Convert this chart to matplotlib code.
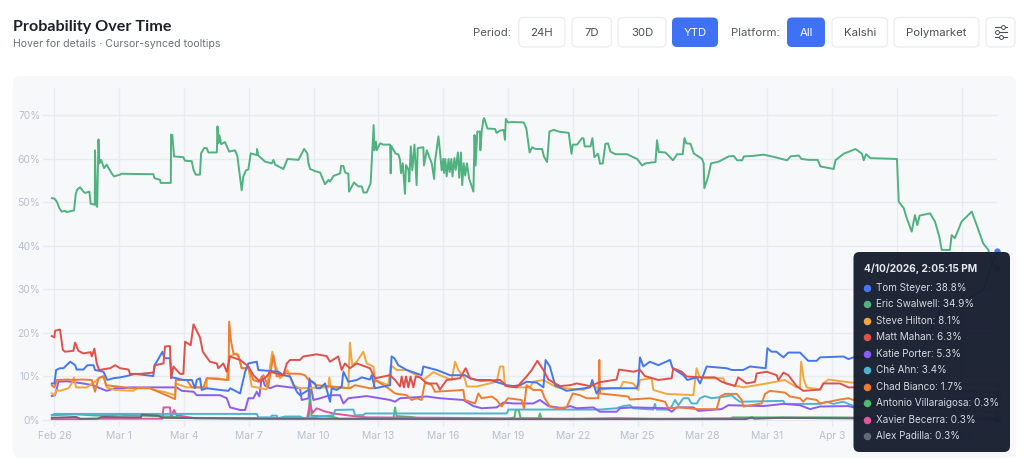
import matplotlib
matplotlib.use("Agg")
import matplotlib.pyplot as plt
from matplotlib.patches import FancyBboxPatch

plt.rcParams['font.family'] = ['Inter', 'DejaVu Sans']

# x is days since Feb 26, y is probability in %
swalwell = [(-.12,51),(0,50.9),(.11,50.2),(.23,48.7),(.34,47.9),(.49,48.1),(.57,47.8),(.91,48.2),(.99,52),(1.06,53),(1.19,53.5),(1.34,52.5),(1.42,52.2),(1.62,52.5),
    (1.68,49.7),(1.87,49.5),(1.88,62),(1.93,49.5),(1.98,49),(2.04,64.5),(2.08,59),(2.16,59.8),(2.3,57.9),(2.42,58.7),(2.65,56.7),(2.76,56),(3.04,56.4),(3.1,56.6),
    (4.58,56.5),(4.63,55.6),(4.89,55.2),(4.92,54.5),(5.39,54.5),(5.4,65.6),(5.46,65.5),(5.54,60.6),(5.97,60.4),(6.05,59.6),(6.36,59.5),(6.44,57.5),(6.54,56.4),(6.74,56.4),
    (6.79,61.3),(6.93,62.5),(7.05,62.5),(7.13,61.5),(7.52,61.5),(7.55,67.5),(7.59,63.6),(7.64,65.5),(7.72,63.4),(7.9,63.9),(8.09,61.7),(8.36,62),(8.47,60.7),(8.56,57.1),
    (8.67,52.8),(8.75,56),(8.87,57.4),(8.98,57.6),(9.09,61.3),(9.37,60.9),(9.38,62.3),(9.44,60.8),(9.75,59.4),(10.06,59),(10.14,59.8),(10.22,58.7),(10.6,57.7),(10.79,60),
    (11.3,59.8),(11.56,62.3),(11.71,61.3),(11.76,59),(11.84,57.7),(12.07,57.2),(12.3,56.9),(12.53,54.2),(12.69,55.2),(12.76,54.8),(12.92,56.1),(13.23,56.7),(13.27,58.4),
    (13.38,58.4),(13.46,56.9),(13.61,56.6),(13.64,52.5),(13.87,54.6),(14.07,53.7),(14.23,53.7),(14.31,52.3),(14.46,52.3),(14.64,54.4),(14.72,62),(14.78,67.8),(14.81,62),
    (14.89,64),(14.92,62),(15.08,63.6),(15.23,63.3),(15.54,63.3),(15.57,56.7),(15.6,63),(15.79,61.3),(15.93,61),(16,59.8),(16.05,56.7),(16.13,59),(16.23,52),(16.28,58.6),
    (16.39,57.5),(16.43,54.8),(16.5,62.9),(16.57,57.4),(16.67,63.3),(16.77,54),(16.82,62.5),(17.08,62.7),(17.11,58.5),(17.24,62),(17.47,59),(17.58,55.4),(17.62,59.4),
    (17.78,65.2),(17.86,61.3),(17.93,57.4),(18,60),(18.04,56.8),(18.1,60),(18.16,56),(18.25,60),(18.3,57),(18.38,60),(18.43,56),(18.52,60.2),(18.58,57.5),(18.68,61.5),
    (18.74,55.7),(18.82,61.5),(18.88,54),(18.95,59),(19.02,56.2),(19.1,59),(19.2,55.5),(19.4,52.5),(19.45,65.5),(19.5,58.5),(19.58,66.3),(19.7,66.3),(19.72,62),(19.78,66.3),
    (19.86,69),(19.9,69.4),(20.05,67),(20.4,66.9),(20.47,66),(20.62,66.5),(20.8,66.7),(20.86,64.4),(20.9,69.2),(21,68.4),(21.19,68.5),(21.73,68.4),(21.85,67),(22,61.5),
    (22.12,62.7),(22.27,62.3),(22.58,62.3),(22.66,60.6),(22.81,59.3),(22.92,66.3),(23.12,66.7),(23.35,66.3),(23.81,66),(23.94,61.2),(24,63.3),(24.2,63.3),(24.43,64.8),
    (24.5,64.7),(24.55,62.9),(24.82,62.9),(24.91,64.8),(25,60.4),(25.17,61.2),(25.26,58.9),(25.39,59),(25.51,63.5),(25.63,63.6),(25.74,61.7),(25.97,61.1),(26.51,61.1),
    (26.98,60),(27.21,58.5),(27.36,59),(27.83,59.3),(27.9,64.3),(27.98,61.6),(28.29,61.5),(28.64,59.7),(28.83,61.1),(29.09,61.1),(29.17,64.8),(29.26,63.6),(29.45,63.5),
    (29.6,61.3),(29.99,60),(30.06,59),(30.09,53.3),(30.22,55.2),(30.3,56.7),(30.4,59),(30.76,59.4),(31.22,60.6),(31.45,60.7),(31.61,59.7),(31.84,59.7),(31.92,60.6),(32.3,60.7),
    (32.84,61),(33.38,60.4),(33.92,59.7),(34.08,60.6),(34.46,60.8),(34.59,60),(34.93,59.8),(35.34,59.8),(35.46,58.3),(36.08,57.7),(36.16,59.7),(36.54,61.2),(37.09,62.3),
    (37.39,61.2),(37.47,59.7),(37.58,61.1),(37.78,60.2),(39.01,60),(39.09,50.2),(39.32,48.7),(39.46,46.4),(39.69,43.3),(39.84,47.1),(39.95,44.8),(40.06,47),(40.54,47.5),
    (40.77,45.6),(40.97,42.1),(41.08,39.1),(41.46,39.1),(41.54,42.5),(41.69,41.8),(42,45.6),(42.47,47.9),(42.7,44.8),(43,40.6),(43.24,39.1),(43.4,36),(43.62,34.9)]
mahan = [(-.12,19.3),(0,19),(.03,20.5),(.26,20.8),(.39,16.1),(.49,15.7),(.88,15.9),(.96,17.8),(1.11,15.9),(1.34,15.3),(1.68,15.6),(1.73,14.6),(1.85,16.4),(1.96,13),(2.07,11.5),
    (2.58,11.9),(2.81,12.6),(3.04,11.9),(3.43,11.6),(3.5,10.6),(3.97,10.6),(4.58,10.9),(4.66,12.6),(5.05,13),(5.12,16.9),(5.35,17),(5.4,9.6),(5.51,12.3),(5.82,10.6),(5.97,10.6),
    (6.05,18),(6.31,17.2),(6.44,22),(6.74,19),(6.87,15.7),(7.2,13.4),(7.52,13),(7.59,11.9),(7.82,13),(7.98,11.1),(8.13,14.6),(8.6,13.8),(8.98,12.3),(9.21,10.3),(9.52,8.8),
    (9.83,10),(9.98,11.1),(10.6,10.3),(10.76,13),(10.91,13.8),(11.37,13.8),(11.52,14.6),(12.14,15.1),(12.6,14.7),(12.76,13.4),(13.14,14.6),(13.3,11.5),(13.45,13),(13.68,11.9),
    (14,13),(14.61,11.9),(14.84,9.6),(15.54,10.3),(15.77,9.2),(16,7.7),(16.08,10),(16.18,7.5),(16.28,10),(16.39,7.5),(16.49,10),(16.62,7.5),(16.73,10),(16.93,9.8),(17.24,8.4),
    (17.7,8.4),(17.85,7),(18.16,9.2),(18.78,9.6),(19.04,11.9),(19.24,9.6),(19.7,9),(20.63,9.2),(20.94,7.8),(21.4,7.5),(21.86,10),(22.1,11.5),(22.36,13.6),(22.64,11.5),
    (22.87,9.3),(23.41,7.8),(23.87,8),(24.18,8.4),(24.8,7.8),(25.26,8.7),(26.03,9.3),(26.14,11.6),(26.8,11.1),(27.11,11.5),(27.34,10.1),(27.96,9.2),(28.58,9.6),(28.65,11.9),
    (29.04,11.1),(29.27,10),(29.89,9.8),(30.58,9.8),(30.89,8.8),(31.51,7.8),(31.66,9.8),(32.05,8.4),(32.44,8.8),(32.51,10.7),(32.98,11.1),(33.44,10.3),(33.52,9.2),(33.75,10.9),
    (33.98,10.3),(34.36,7.8),(34.67,6.7),(35.45,7),(35.6,8.4),(36.37,8.4),(36.76,7.5),(37,7.5),(39,7.3),(43.62,6.3)]
steyer = [(-.12,8.4),(0,8.4),(.08,11.5),(.26,11.9),(.42,11.9),(.73,13.4),(.96,12.6),(1.03,11.6),(1.34,11.6),(1.53,12.6),(1.81,12.6),(1.88,11.5),(2.27,11.1),(2.45,9.2),(2.73,9.6),
    (3.04,9.8),(3.35,10.1),(3.73,10.6),(4.58,10.1),(4.63,12.6),(4.74,13.4),(5,15.7),(5.09,14.2),(5.35,14.2),(5.43,9.8),(5.66,9.6),(5.97,9.2),(6.36,9.2),(6.51,7.3),(6.59,9.2),
    (6.74,9.6),(6.82,6.9),(7.05,7.3),(7.67,6.9),(8.06,6.7),(8.14,7.3),(8.6,6.1),(8.67,7.7),(8.83,11.1),(8.98,13),(9.37,13.4),(9.44,11.5),(9.9,11.3),(10.37,11.1),(10.6,10.3),
    (10.91,10),(11.22,6.5),(11.37,5.7),(11.76,6.9),(11.83,9.2),(12.06,8.4),(12.14,7.3),(12.3,7.3),(12.53,8.4),(12.76,4.2),(12.84,7.3),(13.07,6.9),(13.3,7.7),(13.38,11.1),
    (13.61,8.8),(14,9.2),(14.23,9.8),(14.61,9.3),(14.69,10.3),(14.84,7.3),(15.54,8),(15.61,14.6),(15.74,14.2),(15.92,12.6),(16.31,11.5),(17,10.3),(17.08,12.3),(17.7,11.5),
    (18.31,10.3),(19,10.3),(19.24,9.6),(19.55,9.2),(20.17,9.2),(20.94,8),(21.25,7.8),(21.56,8),(21.86,8.8),(22.33,8.6),(22.64,7.5),(22.74,13.8),(22.94,12.3),(23.18,8),
    (23.71,6.7),(24.8,7.5),(24.9,9.2),(25.1,6.1),(25.26,7.3),(26.96,7.3),(27.03,8.4),(27.11,14.4),(27.27,12.3),(27.57,13.4),(27.96,12.6),(28.5,13.8),(28.62,11.9),(29.12,10.3),
    (29.3,9.2),(29.74,9.8),(29.89,8.4),(30.2,12.3),(31.12,11.9),(31.36,11.5),(31.89,11.5),(32.2,12.3),(32.93,11.9),(33.01,16.5),(33.2,15.7),(33.43,15.7),(33.75,14.4),(33.98,15.5),
    (34.52,15.5),(34.9,13.6),(35.29,13.6),(35.45,14.4),(36.53,14.6),(36.76,14),(37,14.4),(38.5,14.5),(40,14),(40.5,20),(41,25),(42,27),(43,30),(43.62,38.8)]
hilton = [(-.12,6.1),(0,5.7),(.11,6.9),(.26,6.7),(.65,7.3),(.8,8.4),(.91,9.8),(1,7.5),(1.5,7.5),(1.88,8.8),(2.11,9.8),(2.3,9.8),(2.42,7.5),(2.81,6.9),(3.66,6.7),(3.89,7.5),(4.43,7.3),
    (4.58,6.9),(5.05,6.5),(5.59,5.7),(5.62,8.4),(6.13,7.5),(7.05,7.5),(7.06,9.6),(7.52,9.6),(7.98,9.2),(8.09,14.6),(8.44,15.3),(8.6,13.4),(8.67,11.9),(8.98,11.9),(9.14,7.7),
    (9.37,7.5),(9.83,7),(9.98,12.3),(10.09,15.7),(10.2,13),(10.45,9.6),(10.79,11.5),(11.06,8),(11.37,7.3),(12.68,7.5),(12.73,9.8),(12.79,7.5),(13.61,7.3),(13.68,17.8),(13.79,12.6),
    (14,13.4),(14.3,15.7),(14.46,13),(14.77,12.3),(14.84,9.2),(15.46,8),(15.57,12.6),(15.85,11.5),(16.31,11.5),(16.77,10.3),(17.08,9.2),(17.54,11),(17.85,10.3),(18.39,9.2),
    (18.55,13.4),(18.7,11.5),(19,9.6),(19.09,7.7),(19.55,7.7),(20.48,8.8),(20.63,12.3),(20.78,12.3),(20.86,7.8),(21.4,7.5),(22.02,7.5),(22.17,8.8),(22.64,9.2),(23.25,7.5),
    (24.49,6.9),(24.95,8),(25.26,6.9),(25.72,7.3),(26.19,7.3),(26.34,8.8),(26.8,8.4),(27.03,6.9),(27.11,9.2),(27.65,9.6),(27.73,6.9),(28.35,6),(29.58,5.7),(29.73,11.9),(29.86,10),
    (30,9.6),(30.97,9.6),(31.05,8.4),(31.9,7.5),(32.98,8.4),(33.82,9.2),(34.36,7.5),(34.52,7.5),(34.57,13.4),(34.7,9.2),(34.83,7.5),(35.45,7),(35.6,8.4),(35.83,9.3),(36.91,8.6),(39,8.5),(43.62,8.1)]
bianco = [(-.12,8),(0,7.5),(.11,9.2),(.57,9.3),(.88,9.2),(1.27,9.3),(1.73,9.2),(1.88,6.5),(2.04,9.6),(2.27,10.1),(2.39,8),(2.89,7.7),(3.66,7.3),(4.43,7.3),(5.59,4.8),(5.62,9.2),
    (6.13,9.2),(6.36,7.5),(6.9,7.5),(7.05,9.6),(8.06,9.2),(8.09,22.6),(8.18,18),(8.29,15.3),(8.52,14.9),(8.67,11.9),(8.98,11.9),(9.21,9.2),(9.44,8.8),(9.68,10.3),(9.9,7.7),
    (10.14,14.9),(10.29,10),(10.6,10.3),(10.68,10.7),(11.37,10.6),(11.6,10.3),(11.76,9.2),(12.14,8),(13.3,7.5),(13.68,7.3),(13.92,8),(14.61,7.3),(14.77,7.3),(14.84,9.2),(15.46,7.3),
    (15.77,6.1),(16.31,5.7),(16.54,4.6),(16.77,5),(17,4.6),(17.16,8.8),(17.47,8),(17.62,6.5),(18.93,6.9),(19,4.6),(19.47,3.8),(19.63,6.1),(19.78,5),(20.24,5.4),(20.48,4.6),
    (20.7,3.1),(21,5),(21.63,4.6),(21.74,2.7),(21.86,8),(22.17,6.9),(22.55,6.9),(22.7,5),(22.94,3.1),(23.25,2.7),(23.71,2.9),(24,6.1),(24.33,5.7),(24.64,5),(25.18,5),(25.23,13.8),
    (25.26,6.1),(26.03,5.7),(26.57,5.4),(26.65,4.7),(27.57,5),(28.27,4.2),(28.42,2.7),(28.96,2.9),(29.73,2.5),(30.66,2.5),(30.82,5.4),(31.05,6),(31.59,6),(31.82,4.6),(31.9,3.1),
    (32.74,3.8),(32.9,6),(33.13,6.7),(33.82,6.3),(34.05,5.4),(34.52,5),(34.67,4.2),(34.83,5),(35.29,4.6),(35.45,3.8),(36.37,4.7),(36.76,5),(37,4.6),(40,3),(43.62,1.7)]
porter = [(-.12,5.5),(.03,5.7),(.19,8.8),(.57,8.9),(1.19,8.5),(1.8,8),(2.11,7.3),(2.42,6.7),(2.81,7.3),(3.2,7.3),(3.5,7.5),(4.28,7.5),(5.2,7.5),(5.66,7.5),(5.9,6.7),(6.44,6.5),
    (6.59,5.7),(7.67,5.7),(7.98,5),(8.13,2.9),(8.6,2.3),(8.83,2.3),(8.98,5),(9.21,5),(9.37,6.5),(9.49,5.4),(9.6,10),(9.75,7.9),(9.98,7.3),(10.29,7.9),(10.91,7.5),(11.37,7.3),
    (11.45,4.6),(11.77,5),(11.8,9.6),(11.99,4.6),(12.3,5),(12.76,5.7),(13.22,5.7),(13.38,3.8),(13.61,5),(14.46,5.5),(15.07,5),(15.54,4.6),(15.77,4.2),(16,5),(17.24,5.4),(17.85,5),
    (18.93,4.6),(19.4,3.2),(19.78,2.7),(20.48,2.9),(20.78,4),(21.25,3.8),(22.17,3.8),(22.48,4.6),(22.87,3.2),(23.56,2.7),(23.87,3.2),(24.18,2.7),(24.95,2.9),(25.26,1.9),(26.03,1.9),
    (26.19,2.7),(26.8,2.9),(28.35,2.7),(28.58,1.9),(28.81,2.9),(29.58,2.9),(29.81,2.1),(30.89,2.5),(31.2,3.4),(32.82,3.2),(33.75,3.7),(34.52,3.4),(34.98,2.5),(35.45,3.1),(36.76,3.2),(37,2.9),(40,4),(43.62,5.3)]
ahn = [(-.12,1.1),(0,1.4),(9.37,1.4),(9.44,.6),(10.03,.6),(10.06,1),(10.29,1),(10.34,.4),(10.68,.8),(11.37,.8),(11.52,.4),(12.92,1.1),(13,2.3),(13.84,2.4),(13.92,1.1),(14.3,1.1),
    (14.38,1.5),(20.94,1.5),(21.02,2.4),(24.18,2.4),(25.26,2.4),(26.03,2.7),(26.34,3.2),(26.65,3.4),(26.8,2.7),(27.73,2.4),(27.8,3.7),(27.88,2.4),(28.42,2.4),(28.58,3.1),(28.73,4.6),
    (28.89,3.4),(29.12,5),(29.35,5),(29.5,3.8),(29.74,3.8),(29.89,5),(30.12,5.5),(30.43,5),(31.05,5.4),(31.36,5.7),(31.51,5),(31.74,4.2),(33.75,4.4),(33.82,3.7),(35.45,3.7),(35.76,4.2),
    (36.06,3.7),(36.53,4.2),(37,3.2),(40,3.3),(43.62,3.4)]
villaraigosa = [(-.12,1.1),(1,1.3),(2,1),(3,1.2),(4,1),(5.5,.8),(6,.5),(9,.4),(11.37,.3),(11.78,.5),(11.83,6.9),(11.9,1),(12.9,.7),(13.2,.3),(15.7,.4),(15.77,2.9),(15.84,.9),(16.5,.7),
    (17,.3),(21,.3),(21.3,.6),(21.36,2.3),(21.5,2.3),(21.58,.4),(22.42,.4),(22.48,1.5),(22.55,.3),(31.3,.3),(31.4,.6),(36,.6),(43.62,.3)]
becerra = [(-.12,.2),(1,.2),(2,.3),(5,.3),(5.05,2.9),(5.35,2.9),(5.4,.8),(5.54,2.3),(5.66,1.1),(6.5,.4),(11.7,.4),(11.83,3.8),(11.95,1.6),(12.14,2.7),(12.5,2),(12.92,1.5),(13.84,.9),
    (14.46,.6),(18,.5),(24,.2),(26,.4),(28,.2),(34,.5),(43.62,.3)]
padilla = [(-.12,.5),(1,.7),(1.2,.3),(2,.3),(2.2,.7),(4,.6),(4.05,1.2),(4.8,1),(5,.5),(9,.3),(20,.2),(32,.2),(32.3,.6),(32.4,.3),(33.6,.5),(36,.4),(43.62,.3)]

series_names = ["Tom Steyer", "Eric Swalwell", "Steve Hilton", "Matt Mahan", "Katie Porter",
                "Ché Ahn", "Chad Bianco", "Antonio Villaraigosa", "Xavier Becerra", "Alex Padilla"]
series_data = [steyer, swalwell, hilton, mahan, porter, ahn, bianco, villaraigosa, becerra, padilla]
series_last = [38.8, 34.9, 8.1, 6.3, 5.3, 3.4, 1.7, 0.3, 0.3, 0.3]
series_colors = ["#4477f0", "#4fb27f", "#f0a83e", "#e0504a", "#8b5cf0",
                 "#4cb4cf", "#ee7d31", "#4cbb6b", "#e0559c", "#626b7a"]
draw_order = [7, 8, 5, 9, 4, 2, 6, 0, 3, 1]

tick_days = [0, 3, 6, 9, 12, 15, 18, 21, 24, 27, 30, 33, 36, 39, 42]
tick_labels = ["Feb 26", "Mar 1", "Mar 4", "Mar 7", "Mar 10", "Mar 13", "Mar 16", "Mar 19",
               "Mar 22", "Mar 25", "Mar 28", "Mar 31", "Apr 3", "Apr 6", "Apr 9"]
y_ticks = [0, 10, 20, 30, 40, 50, 60, 70]

W, H = 1024, 461
fig = plt.figure(figsize=(W / 100, H / 100), dpi=100, facecolor="white")


def pixel_axes(z):
    a = fig.add_axes([0, 0, 1, 1], zorder=z)
    a.set_xlim(0, W)
    a.set_ylim(H, 0)
    a.axis("off")
    a.patch.set_alpha(0)
    return a


def round_box(a, x0, y0, x1, y1, r, face, edge="none", lw=1.0, alpha=None):
    a.add_patch(FancyBboxPatch((x0 + r, y0 + r), x1 - x0 - 2 * r, y1 - y0 - 2 * r,
                               boxstyle=f"round,pad={r},rounding_size={r}",
                               facecolor=face, edgecolor=edge, linewidth=lw, alpha=alpha))


# page furniture
ui = pixel_axes(0)
ui.text(13, 27, "Probability Over Time", fontsize=11.6, fontweight="bold", family="Lato", color="#1d2129", va="center")
ui.text(13, 44, "Hover for details · Cursor-synced tooltips", fontsize=7.6, color="#6b7078", va="center")
ui.text(491.5, 32.5, "Period:", fontsize=8.2, color="#555a63", ha="center", va="center")
ui.text(755, 32.5, "Platform:", fontsize=8.2, color="#555a63", ha="center", va="center")

buttons = [("24H", 518.7, 565, False), ("7D", 572, 611.5, False), ("30D", 618, 666, False), ("YTD", 672, 718, True),
           ("All", 787, 825, True), ("Kalshi", 832, 887.5, False), ("Polymarket", 894, 979, False), ("", 986, 1015, False)]
for label, x0, x1, active in buttons:
    if active:
        round_box(ui, x0, 17.5, x1, 47, 5, "#3f71f5")
    else:
        round_box(ui, x0, 17.5, x1, 47, 5, "white", "#eceef2", 1.0)
    ui.text((x0 + x1) / 2, 32.5, label, fontsize=8.2, color="white" if active else "#4a4f57", ha="center", va="center")

# settings icon
for y, knob in [(27.5, 1003), (32.5, 997), (37.5, 1001)]:
    ui.plot([995, 1006.5], [y, y], color="#4a4f57", lw=0.8)
    ui.plot([knob], [y], "o", ms=2.8, mfc="white", mec="#4a4f57", mew=0.7)

round_box(ui, 13, 76, 1016, 458, 8, "#f7f8fa")

# chart
left, right, top, bottom = 43, 997, 88, 427
ax = fig.add_axes([left / W, (H - bottom) / H, (right - left) / W, (bottom - top) / H], zorder=1)
ax.patch.set_alpha(0)
ax.set_xlim(-0.528, 43.64)
ax.set_ylim(-1.61, 76.32)
ax.set_xticks(tick_days)
ax.set_xticklabels(tick_labels)
ax.set_yticks(y_ticks)
ax.set_yticklabels([f"{v}%" for v in y_ticks])
ax.tick_params(length=0, labelsize=7.4, labelcolor="#b8bfce")
ax.tick_params(axis="x", pad=3)
ax.tick_params(axis="y", pad=2)
ax.grid(color="#e9ebf1", linewidth=1.0)
ax.set_axisbelow(True)
for spine in ax.spines.values():
    spine.set_visible(False)

for i in draw_order:
    days = [p[0] for p in series_data[i]]
    vals = [p[1] for p in series_data[i]]
    ax.plot(days, vals, color=series_colors[i], linewidth=1.4, solid_joinstyle="round", clip_on=False)
    ax.plot(days[-1], vals[-1], "o", color=series_colors[i], ms=3.5, clip_on=False)

# tooltip
tip = pixel_axes(2)
round_box(tip, 853.5, 252, 1010, 452, 6, "#1a2132", alpha=0.98)
tip.text(864, 268.5, "4/10/2026, 2:05:15 PM", fontsize=7.3, fontweight="bold", color="#e6e8ee", va="center")
for row, name in enumerate(series_names):
    y = 288 + row * 16.45
    tip.plot([867], [y], "o", color=series_colors[row], ms=4.4)
    tip.text(876, y, f"{name}: {series_last[row]}%", fontsize=7.15, color="#d5d8e0", va="center")

fig.savefig("out.png", dpi=100)
